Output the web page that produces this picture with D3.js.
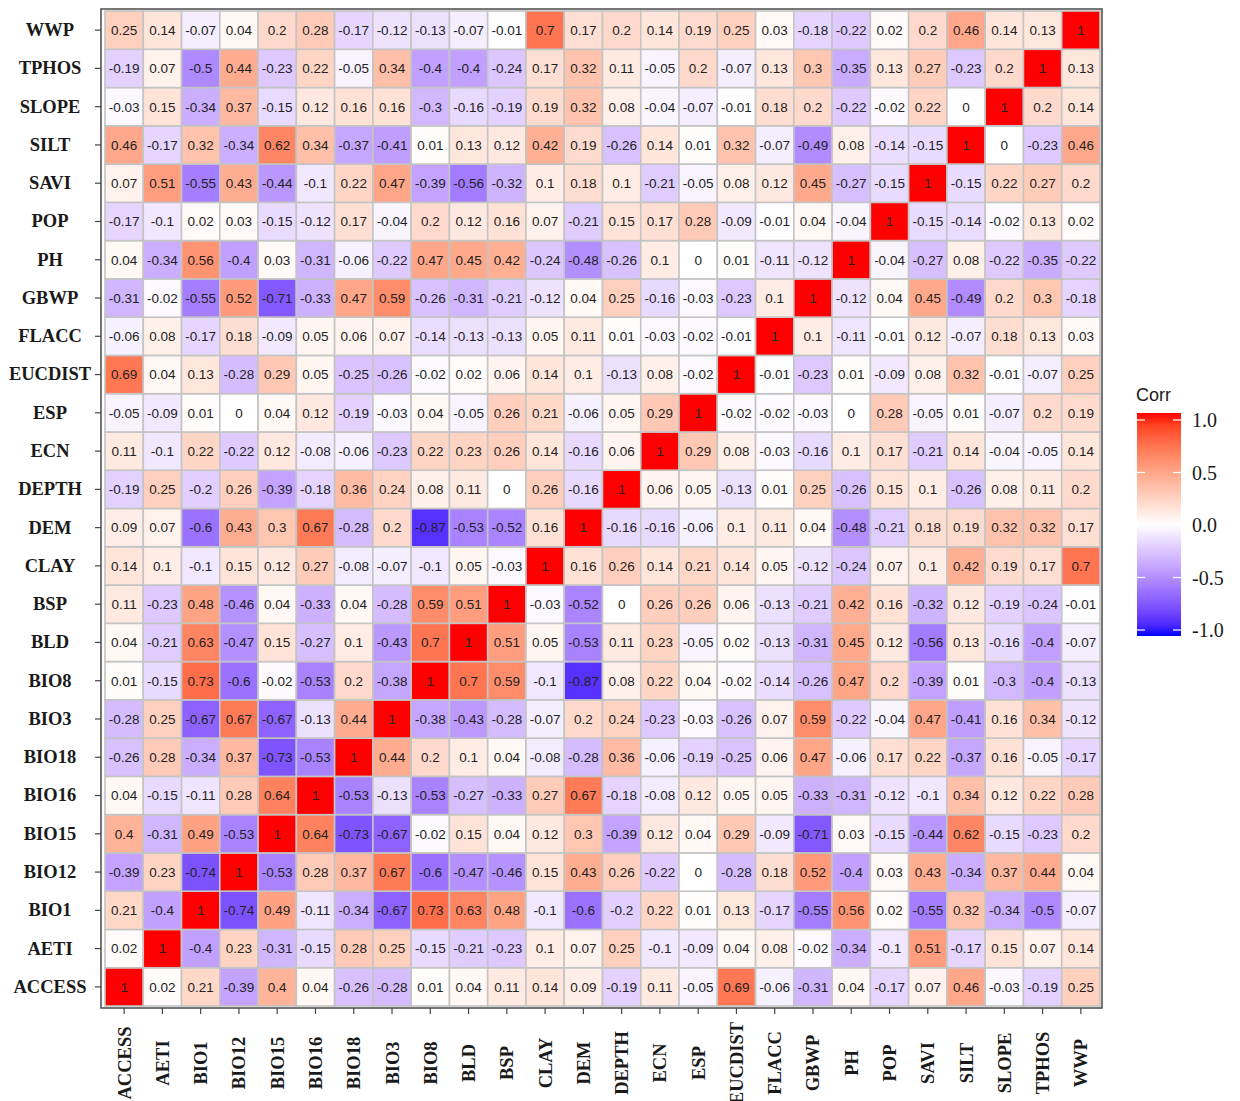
<!DOCTYPE html>
<html>
<head>
<meta charset="utf-8">
<script src="https://cdn.jsdelivr.net/npm/d3@7"></script>
<style>
  body { margin: 0; background: #fff; }
  .axis path.domain { display: none; }
  .axis line { stroke: #444; stroke-width: 1.2; }
  .axis text { font-family: "Liberation Serif", "Times New Roman", serif; font-weight: bold; font-size: 18.5px; fill: #1a1a1a; }
</style>
</head>
<body>
<svg id="chart" width="1240" height="1101"></svg>
<script>
// variable names, same order on both axes (x left->right, y bottom->top)
var labels = ['ACCESS', 'AETI', 'BIO1', 'BIO12', 'BIO15', 'BIO16', 'BIO18', 'BIO3', 'BIO8', 'BLD',
  'BSP', 'CLAY', 'DEM', 'DEPTH', 'ECN', 'ESP', 'EUCDIST', 'FLACC', 'GBWP', 'PH', 'POP', 'SAVI',
  'SILT', 'SLOPE', 'TPHOS', 'WWP'];

// correlation rows, one per variable (same order as labels)
var ACCESS  = [1, 0.02, 0.21, -0.39, 0.4, 0.04, -0.26, -0.28, 0.01, 0.04, 0.11, 0.14, 0.09, -0.19, 0.11, -0.05, 0.69, -0.06, -0.31, 0.04, -0.17, 0.07, 0.46, -0.03, -0.19, 0.25];
var AETI    = [0.02, 1, -0.4, 0.23, -0.31, -0.15, 0.28, 0.25, -0.15, -0.21, -0.23, 0.1, 0.07, 0.25, -0.1, -0.09, 0.04, 0.08, -0.02, -0.34, -0.1, 0.51, -0.17, 0.15, 0.07, 0.14];
var BIO1    = [0.21, -0.4, 1, -0.74, 0.49, -0.11, -0.34, -0.67, 0.73, 0.63, 0.48, -0.1, -0.6, -0.2, 0.22, 0.01, 0.13, -0.17, -0.55, 0.56, 0.02, -0.55, 0.32, -0.34, -0.5, -0.07];
var BIO12   = [-0.39, 0.23, -0.74, 1, -0.53, 0.28, 0.37, 0.67, -0.6, -0.47, -0.46, 0.15, 0.43, 0.26, -0.22, 0, -0.28, 0.18, 0.52, -0.4, 0.03, 0.43, -0.34, 0.37, 0.44, 0.04];
var BIO15   = [0.4, -0.31, 0.49, -0.53, 1, 0.64, -0.73, -0.67, -0.02, 0.15, 0.04, 0.12, 0.3, -0.39, 0.12, 0.04, 0.29, -0.09, -0.71, 0.03, -0.15, -0.44, 0.62, -0.15, -0.23, 0.2];
var BIO16   = [0.04, -0.15, -0.11, 0.28, 0.64, 1, -0.53, -0.13, -0.53, -0.27, -0.33, 0.27, 0.67, -0.18, -0.08, 0.12, 0.05, 0.05, -0.33, -0.31, -0.12, -0.1, 0.34, 0.12, 0.22, 0.28];
var BIO18   = [-0.26, 0.28, -0.34, 0.37, -0.73, -0.53, 1, 0.44, 0.2, 0.1, 0.04, -0.08, -0.28, 0.36, -0.06, -0.19, -0.25, 0.06, 0.47, -0.06, 0.17, 0.22, -0.37, 0.16, -0.05, -0.17];
var BIO3    = [-0.28, 0.25, -0.67, 0.67, -0.67, -0.13, 0.44, 1, -0.38, -0.43, -0.28, -0.07, 0.2, 0.24, -0.23, -0.03, -0.26, 0.07, 0.59, -0.22, -0.04, 0.47, -0.41, 0.16, 0.34, -0.12];
var BIO8    = [0.01, -0.15, 0.73, -0.6, -0.02, -0.53, 0.2, -0.38, 1, 0.7, 0.59, -0.1, -0.87, 0.08, 0.22, 0.04, -0.02, -0.14, -0.26, 0.47, 0.2, -0.39, 0.01, -0.3, -0.4, -0.13];
var BLD     = [0.04, -0.21, 0.63, -0.47, 0.15, -0.27, 0.1, -0.43, 0.7, 1, 0.51, 0.05, -0.53, 0.11, 0.23, -0.05, 0.02, -0.13, -0.31, 0.45, 0.12, -0.56, 0.13, -0.16, -0.4, -0.07];
var BSP     = [0.11, -0.23, 0.48, -0.46, 0.04, -0.33, 0.04, -0.28, 0.59, 0.51, 1, -0.03, -0.52, 0, 0.26, 0.26, 0.06, -0.13, -0.21, 0.42, 0.16, -0.32, 0.12, -0.19, -0.24, -0.01];
var CLAY    = [0.14, 0.1, -0.1, 0.15, 0.12, 0.27, -0.08, -0.07, -0.1, 0.05, -0.03, 1, 0.16, 0.26, 0.14, 0.21, 0.14, 0.05, -0.12, -0.24, 0.07, 0.1, 0.42, 0.19, 0.17, 0.7];
var DEM     = [0.09, 0.07, -0.6, 0.43, 0.3, 0.67, -0.28, 0.2, -0.87, -0.53, -0.52, 0.16, 1, -0.16, -0.16, -0.06, 0.1, 0.11, 0.04, -0.48, -0.21, 0.18, 0.19, 0.32, 0.32, 0.17];
var DEPTH   = [-0.19, 0.25, -0.2, 0.26, -0.39, -0.18, 0.36, 0.24, 0.08, 0.11, 0, 0.26, -0.16, 1, 0.06, 0.05, -0.13, 0.01, 0.25, -0.26, 0.15, 0.1, -0.26, 0.08, 0.11, 0.2];
var ECN     = [0.11, -0.1, 0.22, -0.22, 0.12, -0.08, -0.06, -0.23, 0.22, 0.23, 0.26, 0.14, -0.16, 0.06, 1, 0.29, 0.08, -0.03, -0.16, 0.1, 0.17, -0.21, 0.14, -0.04, -0.05, 0.14];
var ESP     = [-0.05, -0.09, 0.01, 0, 0.04, 0.12, -0.19, -0.03, 0.04, -0.05, 0.26, 0.21, -0.06, 0.05, 0.29, 1, -0.02, -0.02, -0.03, 0, 0.28, -0.05, 0.01, -0.07, 0.2, 0.19];
var EUCDIST = [0.69, 0.04, 0.13, -0.28, 0.29, 0.05, -0.25, -0.26, -0.02, 0.02, 0.06, 0.14, 0.1, -0.13, 0.08, -0.02, 1, -0.01, -0.23, 0.01, -0.09, 0.08, 0.32, -0.01, -0.07, 0.25];
var FLACC   = [-0.06, 0.08, -0.17, 0.18, -0.09, 0.05, 0.06, 0.07, -0.14, -0.13, -0.13, 0.05, 0.11, 0.01, -0.03, -0.02, -0.01, 1, 0.1, -0.11, -0.01, 0.12, -0.07, 0.18, 0.13, 0.03];
var GBWP    = [-0.31, -0.02, -0.55, 0.52, -0.71, -0.33, 0.47, 0.59, -0.26, -0.31, -0.21, -0.12, 0.04, 0.25, -0.16, -0.03, -0.23, 0.1, 1, -0.12, 0.04, 0.45, -0.49, 0.2, 0.3, -0.18];
var PH      = [0.04, -0.34, 0.56, -0.4, 0.03, -0.31, -0.06, -0.22, 0.47, 0.45, 0.42, -0.24, -0.48, -0.26, 0.1, 0, 0.01, -0.11, -0.12, 1, -0.04, -0.27, 0.08, -0.22, -0.35, -0.22];
var POP     = [-0.17, -0.1, 0.02, 0.03, -0.15, -0.12, 0.17, -0.04, 0.2, 0.12, 0.16, 0.07, -0.21, 0.15, 0.17, 0.28, -0.09, -0.01, 0.04, -0.04, 1, -0.15, -0.14, -0.02, 0.13, 0.02];
var SAVI    = [0.07, 0.51, -0.55, 0.43, -0.44, -0.1, 0.22, 0.47, -0.39, -0.56, -0.32, 0.1, 0.18, 0.1, -0.21, -0.05, 0.08, 0.12, 0.45, -0.27, -0.15, 1, -0.15, 0.22, 0.27, 0.2];
var SILT    = [0.46, -0.17, 0.32, -0.34, 0.62, 0.34, -0.37, -0.41, 0.01, 0.13, 0.12, 0.42, 0.19, -0.26, 0.14, 0.01, 0.32, -0.07, -0.49, 0.08, -0.14, -0.15, 1, 0, -0.23, 0.46];
var SLOPE   = [-0.03, 0.15, -0.34, 0.37, -0.15, 0.12, 0.16, 0.16, -0.3, -0.16, -0.19, 0.19, 0.32, 0.08, -0.04, -0.07, -0.01, 0.18, 0.2, -0.22, -0.02, 0.22, 0, 1, 0.2, 0.14];
var TPHOS   = [-0.19, 0.07, -0.5, 0.44, -0.23, 0.22, -0.05, 0.34, -0.4, -0.4, -0.24, 0.17, 0.32, 0.11, -0.05, 0.2, -0.07, 0.13, 0.3, -0.35, 0.13, 0.27, -0.23, 0.2, 1, 0.13];
var WWP     = [0.25, 0.14, -0.07, 0.04, 0.2, 0.28, -0.17, -0.12, -0.13, -0.07, -0.01, 0.7, 0.17, 0.2, 0.14, 0.19, 0.25, 0.03, -0.18, -0.22, 0.02, 0.2, 0.46, 0.14, 0.13, 1];

var rows = [ACCESS, AETI, BIO1, BIO12, BIO15, BIO16, BIO18, BIO3, BIO8, BLD, BSP, CLAY, DEM,
  DEPTH, ECN, ESP, EUCDIST, FLACC, GBWP, PH, POP, SAVI, SILT, SLOPE, TPHOS, WWP];

var legendTicks = [-1, -0.5, 0, 0.5, 1];

// SETUP
var svg = d3.select('#chart');

var x = d3.scaleBand().domain(labels).range([105, 1100]);
var y = d3.scaleBand().domain(labels).range([1006, 11]);

var color = d3.scaleLinear()
  .domain([-1, 0, 1])
  .range(['blue', 'white', 'red'])
  .interpolate(d3.interpolateLab);

// flatten into cells
var cells = [];
rows.forEach(function (row, i) {
  row.forEach(function (v, j) {
    cells.push({ row: labels[i], col: labels[j], value: v });
  });
});

/**
 * Tiles
 */
var tiles = svg.append('g').attr('class', 'tiles');

tiles.selectAll('rect')
  .data(cells)
  .enter()
  .append('rect')
  .attr('x', function (d) { return x(d.col); })
  .attr('y', function (d) { return y(d.row); })
  .attr('width', x.bandwidth())
  .attr('height', y.bandwidth())
  .attr('fill', function (d) { return color(d.value); })
  .attr('stroke', '#c4c4c4')
  .attr('stroke-width', 1.6);

// plain hyphen for negatives, like the original labels
tiles.selectAll('text')
  .data(cells)
  .enter()
  .append('text')
  .attr('x', function (d) { return x(d.col) + x.bandwidth() / 2; })
  .attr('y', function (d) { return y(d.row) + y.bandwidth() / 2; })
  .attr('dy', '0.36em')
  .attr('text-anchor', 'middle')
  .style('font-family', '"Liberation Sans", Arial, sans-serif')
  .style('font-size', '13.5px')
  .style('fill', '#222')
  .text(function (d) { return String(d.value); });

// panel frame
svg.append('rect')
  .attr('x', 101)
  .attr('y', 9)
  .attr('width', 1001)
  .attr('height', 999)
  .attr('fill', 'none')
  .attr('stroke', '#555')
  .attr('stroke-width', 1.6);

/**
 * Axes
 */
var xAxis = svg.append('g')
  .attr('class', 'axis')
  .attr('transform', 'translate(0,1008)')
  .call(d3.axisBottom(x).tickSize(6).tickSizeOuter(0));

xAxis.selectAll('text')
  .attr('y', 0)
  .attr('dy', '0.35em')
  .attr('transform', 'translate(0,55) rotate(-90)')
  .style('text-anchor', 'middle');

var yAxis = svg.append('g')
  .attr('class', 'axis')
  .attr('transform', 'translate(101,0)')
  .call(d3.axisLeft(y).tickSize(6).tickSizeOuter(0));

yAxis.selectAll('text')
  .attr('x', -51)
  .style('text-anchor', 'middle');

/**
 * Legend
 */
var legendY = d3.scaleLinear().domain([-1, 1]).range([630, 420]);

var grad = svg.append('defs')
  .append('linearGradient')
  .attr('id', 'corr-grad')
  .attr('x1', 0).attr('y1', 1)
  .attr('x2', 0).attr('y2', 0);

d3.range(0, 1.0001, 0.05).forEach(function (t) {
  grad.append('stop')
    .attr('offset', t)
    .attr('stop-color', color(-1 + 2 * t));
});

var legend = svg.append('g').attr('class', 'legend');

legend.append('text')
  .attr('x', 1136)
  .attr('y', 401)
  .style('font-family', '"Liberation Sans", Arial, sans-serif')
  .style('font-size', '18px')
  .style('fill', '#1a1a1a')
  .text('Corr');

legend.append('rect')
  .attr('x', 1137)
  .attr('y', 413)
  .attr('width', 44)
  .attr('height', 223)
  .attr('fill', 'url(#corr-grad)');

legend.selectAll('line.l')
  .data(legendTicks)
  .enter()
  .append('line')
  .attr('x1', 1137).attr('x2', 1145)
  .attr('y1', legendY).attr('y2', legendY)
  .attr('stroke', 'white').attr('stroke-width', 1.2);

legend.selectAll('line.r')
  .data(legendTicks)
  .enter()
  .append('line')
  .attr('x1', 1173).attr('x2', 1181)
  .attr('y1', legendY).attr('y2', legendY)
  .attr('stroke', 'white').attr('stroke-width', 1.2);

legend.selectAll('text.tick')
  .data(legendTicks)
  .enter()
  .append('text')
  .attr('class', 'tick')
  .attr('x', 1192)
  .attr('y', legendY)
  .attr('dy', '0.35em')
  .style('font-family', '"Liberation Serif", "Times New Roman", serif')
  .style('font-size', '20px')
  .style('fill', '#1a1a1a')
  .text(function (d) { return d.toFixed(1); });
</script>
</body>
</html>
